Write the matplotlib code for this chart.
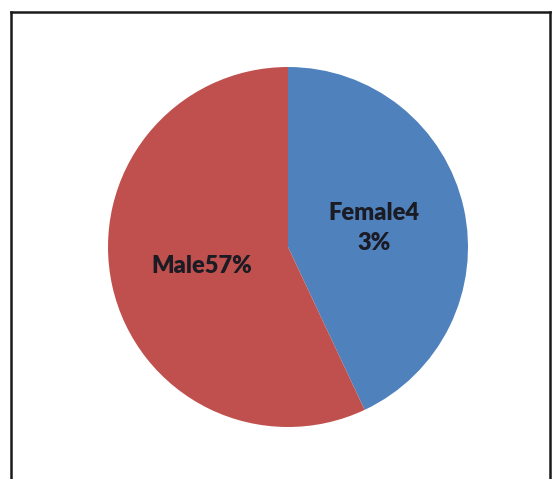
import numpy as np
import matplotlib.pyplot as plt
from matplotlib.lines import Line2D

labels = ["Female4\n3%", "Male57%"]
shares = [43, 57]
colors = ["#4F81BD", "#C0504D"]
label_radius = [0.49, 0.49]

W, H = 557, 479
fig = plt.figure(figsize=(W / 100, H / 100), dpi=100, facecolor="white")

# pie area: centre (288, 247), radius ~180 px
cx, cy, r = 288, 247, 180
ax = fig.add_axes([(cx - r) / W, (H - cy - r) / H, 2 * r / W, 2 * r / H])
wedges, _ = ax.pie(shares, colors=colors, startangle=90, counterclock=False,
                   radius=1.0, wedgeprops=dict(linewidth=0))
ax.set_xlim(-1, 1)
ax.set_ylim(-1, 1)
ax.set_aspect("equal")
ax.axis("off")

for w, lab, lr in zip(wedges, labels, label_radius):
    mid = np.deg2rad((w.theta1 + w.theta2) / 2)
    ax.text(lr * np.cos(mid), lr * np.sin(mid), lab, ha="center", va="center",
            fontsize=17, fontweight="heavy", family="Lato",
            color="#1b1b24", linespacing=1.45)

# frame (bottom edge cropped off in the original)
frame = dict(color="#1a1a1a", linewidth=1.8, transform=fig.transFigure)
x0, x1, y1 = 10.5 / W, 550 / W, 1 - 12 / H
fig.add_artist(Line2D([x0, x0], [0, y1], **frame))
fig.add_artist(Line2D([x0, x1], [y1, y1], **frame))
fig.add_artist(Line2D([x1, x1], [0, y1], **frame))

fig.savefig("out.png", dpi=100, facecolor="white")
